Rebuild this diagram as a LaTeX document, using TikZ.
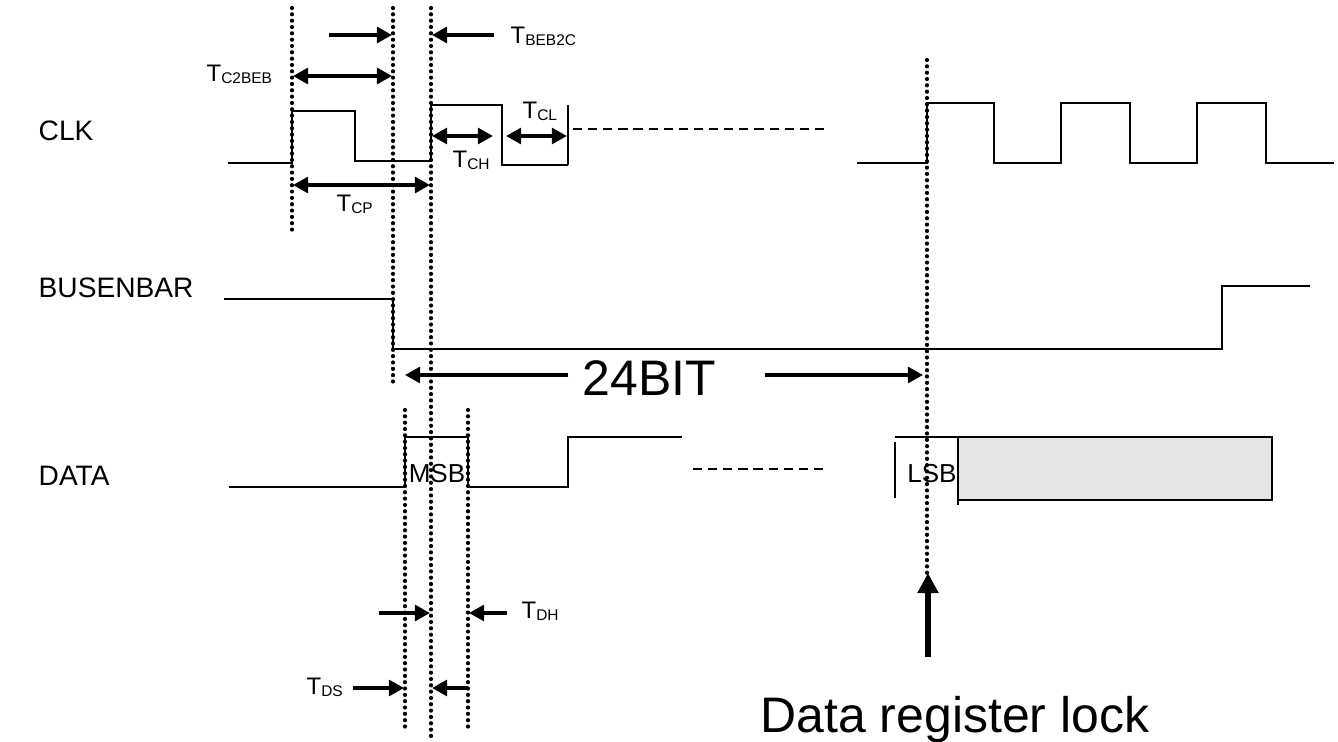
\documentclass[tikz,border=0pt]{standalone}
\usepackage{fontspec}
\setmainfont{Liberation Sans}
\usetikzlibrary{arrows.meta}

\newcommand*{\tsub}[1]{T\raisebox{-0.6pt}{\fontsize{4.4}{5}\selectfont #1}}
\newcommand*{\clkhi}{103}
\newcommand*{\clklo}{163}

\begin{document}
\begin{tikzpicture}
[
	x=0.01cm, y=-0.01cm,
	wave/.style={line width=0.6pt},
	guide/.style={line width=1.2pt,dash pattern=on 0pt off 1.8pt,line cap=round},
	gapline/.style={line width=0.7pt,dash pattern=on 2.6pt off 1.7pt},
	tarrow/.style={line width=1pt,-{Triangle[length=4.3pt,width=4.5pt]}},
	tboth/.style={line width=1pt,{Triangle[length=4.3pt,width=4.5pt]}-{Triangle[length=4.3pt,width=4.5pt]}},
	sig/.style={font=\fontsize{8}{9}\selectfont,anchor=base west,inner sep=0pt},
	tlabel/.style={font=\fontsize{6.8}{7}\selectfont,anchor=base west,inner sep=0pt},
	bit/.style={font=\fontsize{7.4}{8}\selectfont,anchor=base,inner sep=0pt},
	big/.style={font=\fontsize{14.2}{16}\selectfont,anchor=base west,inner sep=0pt}
]
	\useasboundingbox (0,0) rectangle (1338,742);

	% signal names
	\node[sig] (clk) at (38,140) {CLK};
	\node[sig] (busenbar) at (38,297) {BUSENBAR};
	\node[sig] (data) at (38,485) {DATA};

	% guide lines
	\draw[guide] (292,8) -- (292,233);
	\draw[guide] (393,8) -- (393,386);
	\draw[guide] (431,8) -- (431,740);
	\draw[guide] (405,410) -- (405,732);
	\draw[guide] (468,410) -- (468,732);
	\draw[guide] (927,60) -- (927,573);

	% CLK
	\draw[wave] (228,\clklo) -- (292,\clklo) -- (292,111) -- (355,111) -- (355,161)
		-- (431,161) -- (431,105) -- (502,105) -- (502,165) -- (568,165);
	\draw[wave] (568,105) -- (568,165);
	\draw[gapline] (573,129) -- (826,129);
	\draw[wave] (857,\clklo) -- (927,\clklo) -- (927,\clkhi) -- (994,\clkhi) -- (994,\clklo)
		-- (1061,\clklo) -- (1061,\clkhi) -- (1130,\clkhi) -- (1130,\clklo) -- (1197,\clklo)
		-- (1197,\clkhi) -- (1266,\clkhi) -- (1266,\clklo) -- (1334,\clklo);

	% BUSENBAR
	\draw[wave] (224,299) -- (393,299) -- (393,349) -- (1222,349) -- (1222,286) -- (1310,286);

	% DATA
	\draw[wave] (229,487) -- (405,487) -- (405,437) -- (468,437) -- (468,487)
		-- (568,487) -- (568,437) -- (682,437);
	\draw[gapline] (693,469) -- (826,469);
	\draw[wave] (895,442) -- (895,498);
	\draw[wave] (895,437) -- (958,437);
	\draw[wave,fill=black!10] (958,437) rectangle (1272,500);
	\draw[wave] (958,500) -- (958,505);
	\node[bit] (msb) at (437,482) {MSB};
	\node[bit] (lsb) at (932,482) {LSB};

	% timing arrows
	\draw[tarrow] (329,35) -- (392,35);
	\draw[tarrow] (494,35) -- (432,35);
	\node[tlabel] (tbeb2c) at (510,43) {\tsub{BEB2C}};
	\draw[tboth] (293,76) -- (392,76);
	\node[tlabel] (tc2beb) at (206,81) {\tsub{C2BEB}};
	\draw[tboth] (432,136) -- (493,136);
	\node[tlabel] (tch) at (452,167) {\tsub{CH}};
	\draw[tboth] (506,136) -- (567,136);
	\node[tlabel] (tcl) at (522,118) {\tsub{CL}};
	\draw[tboth] (293,185) -- (430,185);
	\node[tlabel] (tcp) at (336,211) {\tsub{CP}};

	\draw[tarrow] (379,613) -- (430,613);
	\draw[tarrow] (507,613) -- (469,613);
	\node[tlabel] (tdh) at (521,618) {\tsub{DH}};
	\draw[tarrow] (353,688) -- (404,688);
	\draw[tarrow] (468,688) -- (432,688);
	\node[tlabel] (tds) at (306,694) {\tsub{DS}};

	% 24 bit span
	\draw[tarrow] (568,375) -- (405,375);
	\draw[tarrow] (765,375) -- (923,375);
	\node[big] (bits) at (582,395) {24BIT};

	% latch
	\draw[line width=1.9pt,-{Triangle[length=5.7pt,width=5.7pt]}] (928,657) -- (928,573);
	\node[big] (lock) at (760,732) {Data register lock};

\end{tikzpicture}
\end{document}
